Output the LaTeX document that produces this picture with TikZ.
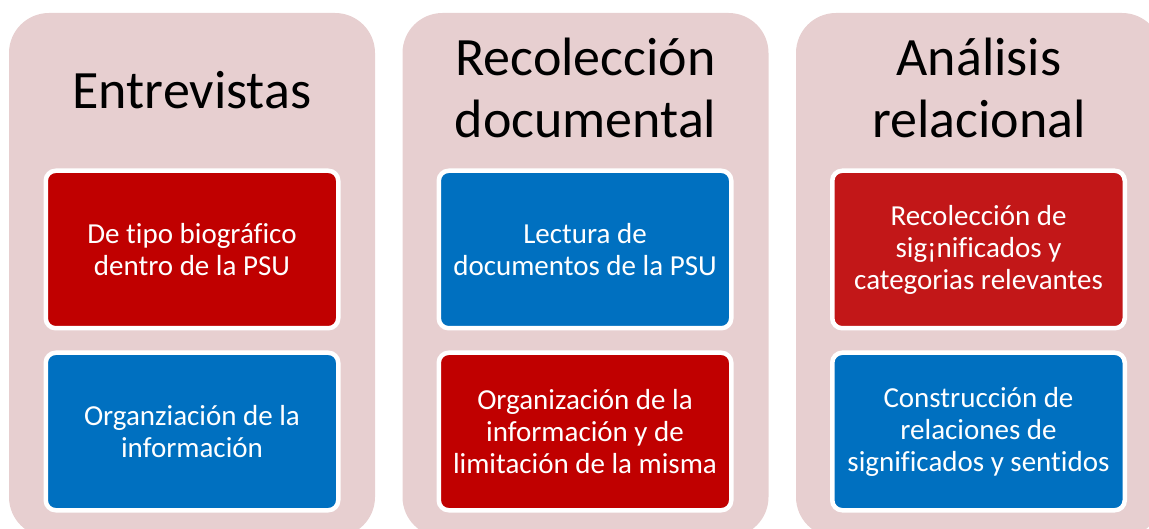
\documentclass[tikz,border=0pt]{standalone}
\usepackage{fontspec}
\setmainfont{Carlito}[Ligatures=NoCommon]
\definecolor{panelpink}{HTML}{E7CFD0}
\definecolor{boxred}{HTML}{C00000}
\definecolor{boxredb}{HTML}{C21718}
\definecolor{boxblue}{HTML}{0070C0}
\tikzset{
  panel/.style={fill=panelpink, rounded corners=40pt},
  title/.style={align=center, font=\fontsize{54}{62}\selectfont, text=black, inner sep=0pt},
  item/.style={draw=white, line width=4.5pt, rounded corners=10pt, minimum width=292.5pt, minimum height=157.5pt, align=center, text=white, font=\fontsize{29}{32}\selectfont, inner sep=0pt},
}
\begin{document}
\begin{tikzpicture}[x=1pt, y=-1pt]
\useasboundingbox (0,0) rectangle (1149,529);
\clip (0,0) rectangle (1149,529);
% panels
\fill[panel] (9,13) rectangle (375,537);
\fill[panel] (402.5,13) rectangle (768.5,537);
\fill[panel] (796,13) rectangle (1162,537);
% titles
\node[title] (t1) at (192,90) {Entrevistas};
\node[title] (t2) at (585.5,88) {Recolección\\documental};
\node[title] (t3) at (979,88) {Análisis\\relacional};
% items
\node[item, fill=boxred] (a1) at (192,249.5) {De tipo biográfico\\dentro de la PSU};
\node[item, fill=boxblue] (a2) at (192,431.5) {Organziación de la\\información};
\node[item, fill=boxblue] (b1) at (585,249.5) {Lectura de\\documentos de la PSU};
\node[item, fill=boxred] (b2) at (585,431.5) {Organización de la\\información y de\\limitación de la misma};
\node[item, fill=boxredb] (c1) at (978.5,249.5) {Recolección de\\sig¡nificados y\\categorias relevantes};
\node[item, fill=boxblue] (c2) at (978.5,431.5) {Construcción de\\relaciones de\\significados y sentidos};
\end{tikzpicture}
\end{document}
